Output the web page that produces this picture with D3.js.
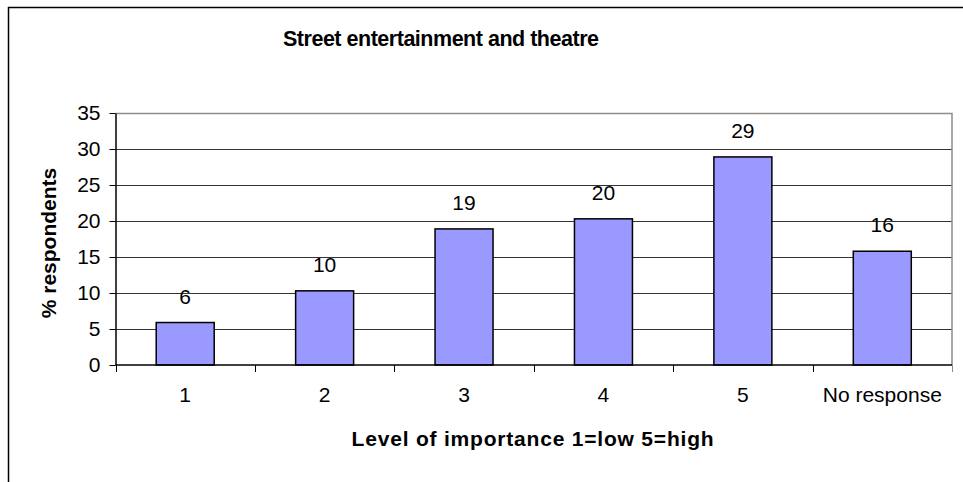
<!DOCTYPE html>
<html>
<head>
<meta charset="utf-8">
<title>Street entertainment and theatre</title>
<script src="https://d3js.org/d3.v7.min.js"></script>
<style>
  body { margin: 0; background: #fff; }
  text { font-family: "Liberation Sans", Arial, sans-serif; fill: #000; }
</style>
</head>
<body>
<div id="chart"></div>
<script>
var categories = ["1", "2", "3", "4", "5", "No response"];
var values = [5.9, 10.3, 18.9, 20.3, 28.9, 15.8];
var yTicks = [0, 5, 10, 15, 20, 25, 30, 35];

var W = 963, H = 482;
var plot = {left: 115.5, top: 113, right: 952, bottom: 365};
var fs = "21px";

var svg = d3.select("#chart").append("svg")
    .attr("width", W)
    .attr("height", H);

// outer frame (runs off the right and bottom edges)
svg.append("rect")
    .attr("x", 8.5).attr("y", 7.5)
    .attr("width", 1000).attr("height", 1000)
    .attr("fill", "none")
    .attr("stroke", "#000")
    .attr("stroke-width", 1.5);

var x = d3.scaleBand()
    .domain(categories)
    .range([plot.left, plot.right])
    .paddingInner(0.584)
    .paddingOuter(0.292);

var xb = d3.scaleBand()
    .domain(categories)
    .range([plot.left, plot.right]);

var y = d3.scaleLinear()
    .domain([0, 35])
    .range([plot.bottom, plot.top]);

// gridlines
svg.append("g")
  .selectAll("line")
  .data(yTicks.filter(function(d) { return d > 0 && d < 35; }))
  .enter().append("line")
    .attr("x1", plot.left).attr("x2", plot.right)
    .attr("y1", function(d) { return Math.round(y(d)) + 0.5; })
    .attr("y2", function(d) { return Math.round(y(d)) + 0.5; })
    .attr("stroke", "#333")
    .attr("stroke-width", 1);

// plot border top / right (gray)
svg.append("path")
    .attr("d", "M" + plot.left + "," + (plot.top + 0.5) + "H" + plot.right + "V" + plot.bottom)
    .attr("fill", "none")
    .attr("stroke", "#8c8c8c")
    .attr("stroke-width", 1.5);

// bars
svg.append("g")
  .selectAll("rect")
  .data(values)
  .enter().append("rect")
    .attr("x", function(d, i) { return x(categories[i]); })
    .attr("y", function(d) { return y(d); })
    .attr("width", x.bandwidth())
    .attr("height", function(d) { return y(0) - y(d); })
    .attr("fill", "#9999ff")
    .attr("stroke", "#000")
    .attr("stroke-width", 1.5);

// value labels
svg.append("g")
  .selectAll("text")
  .data(values)
  .enter().append("text")
    .attr("x", function(d, i) { return x(categories[i]) + x.bandwidth() / 2; })
    .attr("y", function(d) { return y(d) - 19; })
    .attr("text-anchor", "middle")
    .style("font-size", fs)
    .text(function(d) { return d3.format(".0f")(d); });

// y axis
var yAxis = svg.append("g")
    .attr("transform", "translate(" + plot.left + ",0)")
    .call(d3.axisLeft(y).tickValues(yTicks).tickSize(6).tickPadding(9).tickSizeOuter(0));
yAxis.select(".domain").attr("stroke", "#000").attr("stroke-width", 1.5);
yAxis.selectAll(".tick line").attr("stroke", "#000");
yAxis.selectAll("text").style("font-size", fs).attr("font-family", null);

// x axis
svg.append("line")
    .attr("x1", plot.left).attr("x2", plot.right)
    .attr("y1", plot.bottom).attr("y2", plot.bottom)
    .attr("stroke", "#000").attr("stroke-width", 1.5);

svg.append("g")
  .selectAll("line")
  .data(categories.concat(["end"]))
  .enter().append("line")
    .attr("x1", function(d, i) { return Math.round(plot.left + i * xb.step()) + 0.5; })
    .attr("x2", function(d, i) { return Math.round(plot.left + i * xb.step()) + 0.5; })
    .attr("y1", plot.bottom).attr("y2", plot.bottom + 7)
    .attr("stroke", function(d, i) { return i == categories.length ? "#8c8c8c" : "#000"; });

svg.append("g")
  .selectAll("text")
  .data(categories)
  .enter().append("text")
    .attr("x", function(d) { return xb(d) + xb.bandwidth() / 2; })
    .attr("y", 402)
    .attr("text-anchor", "middle")
    .style("font-size", fs)
    .text(function(d) { return d; });

// titles
svg.append("text")
    .attr("x", 441)
    .attr("y", 46)
    .attr("text-anchor", "middle")
    .attr("textLength", 316)
    .attr("lengthAdjust", "spacing")
    .style("font-size", "21.5px")
    .style("font-weight", "bold")
    .text("Street entertainment and theatre");

svg.append("text")
    .attr("x", 533)
    .attr("y", 446)
    .attr("text-anchor", "middle")
    .style("font-size", fs)
    .style("font-weight", "bold")
    .style("letter-spacing", "0.8px")
    .text("Level of importance 1=low 5=high");

svg.append("text")
    .attr("transform", "translate(56," + ((plot.top + plot.bottom) / 2 + 4) + ")rotate(-90)")
    .attr("text-anchor", "middle")
    .style("font-size", fs)
    .style("font-weight", "bold")
    .text("% respondents");
</script>
</body>
</html>
